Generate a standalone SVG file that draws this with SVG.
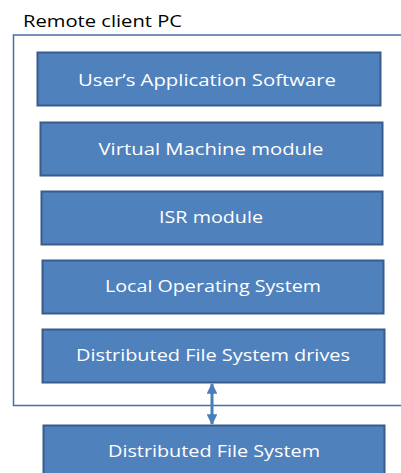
<svg xmlns="http://www.w3.org/2000/svg" width="401" height="473" viewBox="0 0 401 473">
<style>
.box{fill:#4f81bd;stroke:#385d8a;stroke-width:2}
.lbl{font-family:"Open Sans","Liberation Sans",sans-serif;font-size:16px;fill:#ffffff;text-anchor:middle}
.ttl{font-family:"Open Sans","Liberation Sans",sans-serif;font-size:16px;fill:#000000}
</style>
<defs>
<marker id="ah" viewBox="0 0 10 10" refX="9" refY="5" markerWidth="3.6" markerHeight="3.6" orient="auto-start-reverse" markerUnits="strokeWidth">
<path d="M0,0 L10,5 L0,10 Z" fill="#4a7ebb"/>
</marker>
</defs>
<rect width="401" height="473" fill="#ffffff"/>
<g id="frame">
<text class="ttl" x="23" y="27" textLength="159" lengthAdjust="spacingAndGlyphs">Remote client PC</text>
<path d="M403,35 L13.5,35 L13.5,405.5 L403,405.5" fill="none" stroke="#4a6f9f" stroke-width="1.5"/>
</g>
<g id="app">
<rect class="box" x="37.5" y="52.5" width="343" height="53"/>
<text class="lbl" x="207" y="86" textLength="258" lengthAdjust="spacingAndGlyphs">User’s Application Software</text>
</g>
<g id="vm">
<rect class="box" x="40.5" y="122.5" width="342" height="53"/>
<text class="lbl" x="211" y="155" textLength="225" lengthAdjust="spacingAndGlyphs">Virtual Machine module</text>
</g>
<g id="isr">
<rect class="box" x="41.5" y="191.5" width="341" height="53"/>
<text class="lbl" x="211" y="223" textLength="104" lengthAdjust="spacingAndGlyphs">ISR module</text>
</g>
<g id="los">
<rect class="box" x="42.5" y="260.5" width="341" height="53"/>
<text class="lbl" x="213" y="292" textLength="216" lengthAdjust="spacingAndGlyphs">Local Operating System</text>
</g>
<g id="dfsd">
<rect class="box" x="42.5" y="329.5" width="342" height="53"/>
<text class="lbl" x="213" y="361" textLength="274" lengthAdjust="spacingAndGlyphs">Distributed File System drives</text>
</g>
<g id="dfs">
<rect class="box" x="43.5" y="425.5" width="341" height="55"/>
<text class="lbl" x="214" y="457" textLength="212" lengthAdjust="spacingAndGlyphs">Distributed File System</text>
</g>
<g id="connectors">
<line x1="212" y1="384" x2="212" y2="424" stroke="#4a7ebb" stroke-width="3" marker-start="url(#ah)" marker-end="url(#ah)"/>
</g>
</svg>
